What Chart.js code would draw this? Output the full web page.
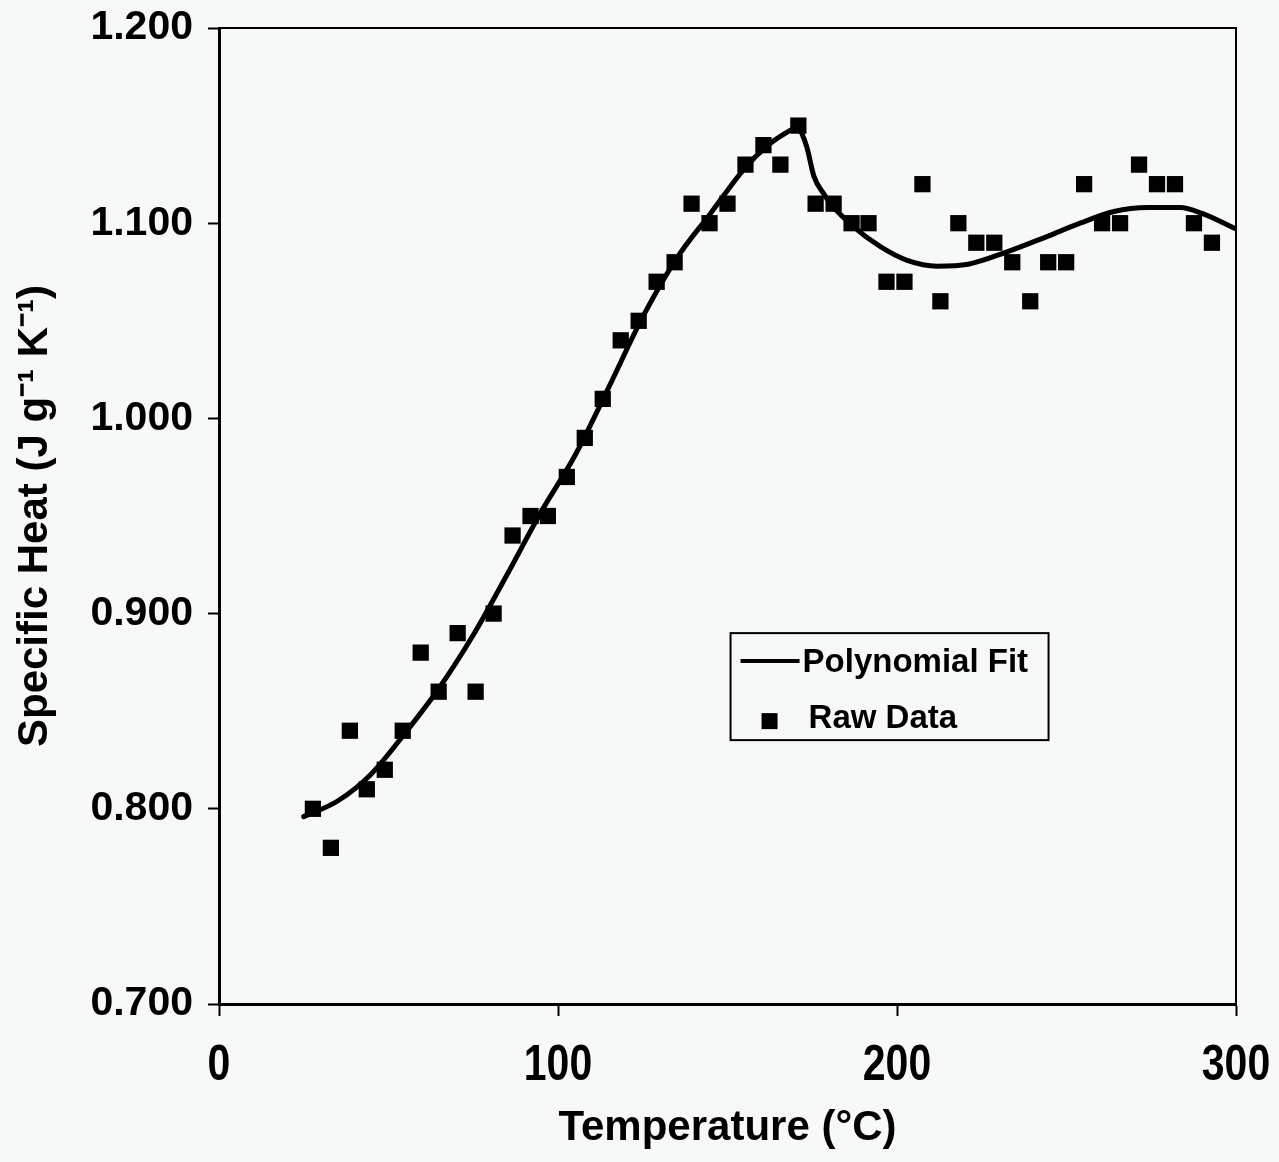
<!DOCTYPE html>
<html><head><meta charset="utf-8">
<script src="https://cdn.jsdelivr.net/npm/chart.js@4/dist/chart.umd.min.js"></script>
<style>html,body{margin:0;padding:0;background:#f7f8f8;}#wrap{width:1279px;height:1162px;}</style>
</head><body><div id="wrap"><canvas id="c" width="1279" height="1162"></canvas></div>
<script>
const rawTemperature = [27.7,33.0,38.6,43.6,48.9,54.2,59.5,64.8,70.4,75.7,81.0,86.6,91.9,97.0,102.6,107.9,113.2,118.5,123.8,129.1,134.4,139.4,144.7,150.0,155.3,160.6,165.6,170.9,176.0,181.3,186.6,191.6,196.9,202.2,207.5,212.8,218.1,223.4,228.7,234.0,239.3,244.6,249.9,255.2,260.5,265.8,271.4,276.7,282.0,287.6,292.9];
const rawSpecificHeat = [0.80,0.78,0.84,0.81,0.82,0.84,0.88,0.86,0.89,0.86,0.90,0.94,0.95,0.95,0.97,0.99,1.01,1.04,1.05,1.07,1.08,1.11,1.10,1.11,1.13,1.14,1.13,1.15,1.11,1.11,1.10,1.10,1.07,1.07,1.12,1.06,1.10,1.09,1.09,1.08,1.06,1.08,1.08,1.12,1.10,1.10,1.13,1.12,1.12,1.10,1.09];
const fitLowTemperature = [25,35,45,55,65,75,85,95,105,115,125,135,145,155,162,167,171];
const fitLowSpecificHeat = [0.796,0.804,0.818,0.839,0.862,0.889,0.920,0.952,0.981,1.016,1.052,1.082,1.105,1.128,1.140,1.146,1.150];
const fitHighTemperature = [171,173.4,175.5,178.4,180.4,187.3,195.1,203,211.8,221,232,244,254,264,274,283.5,290,300];
const fitHighSpecificHeat = [1.150,1.139,1.124,1.115,1.110,1.098,1.088,1.081,1.078,1.079,1.085,1.093,1.100,1.106,1.108,1.108,1.105,1.097];
const xTickValues = [0,100,200,300];
const yTickValues = [0.7,0.8,0.9,1.0,1.1,1.2];
const seriesLabels = ['Polynomial Fit','Raw Data'];
const xTitle = 'Temperature (°C)';
const yTitle = 'Specific Heat (J g⁻¹ K⁻¹)';

const toXY = (xs, ys) => xs.map((x, i) => ({x: x, y: ys[i]}));
const BG = '#f7f8f8';
const SANS = "'Liberation Sans',Arial,sans-serif";

const frameAndLegend = {
  id: 'frameAndLegend',
  afterDraw(chart) {
    const ctx = chart.ctx, ca = chart.chartArea;
    ctx.save();
    ctx.strokeStyle = '#000';
    ctx.lineWidth = 2;
    ctx.beginPath();
    ctx.moveTo(ca.left, ca.top); ctx.lineTo(ca.right, ca.top); ctx.lineTo(ca.right, ca.bottom);
    ctx.stroke();
    // condensed x tick labels placed by the x scale
    const xs = chart.scales.x;
    ctx.fillStyle = '#000';
    ctx.textAlign = 'center';
    ctx.textBaseline = 'middle';
    ctx.font = "bold 50px " + SANS;
    xTickValues.forEach(v => {
      ctx.save();
      ctx.translate(xs.getPixelForValue(v), ca.bottom + 62);
      ctx.scale(0.82, 1);
      ctx.fillText(String(v), 0, 0);
      ctx.restore();
    });
    // legend
    const lx = ca.left + 0.503 * (ca.right - ca.left);
    const ly = ca.top + 0.620 * (ca.bottom - ca.top);
    const lw = 318, lh = 107;
    ctx.fillStyle = BG;
    ctx.fillRect(lx, ly, lw, lh);
    ctx.lineWidth = 2;
    ctx.strokeRect(lx, ly, lw, lh);
    ctx.lineWidth = 4;
    ctx.beginPath();
    ctx.moveTo(lx + 10, ly + 28); ctx.lineTo(lx + 69, ly + 28);
    ctx.stroke();
    ctx.fillStyle = '#000';
    ctx.fillRect(lx + 39 - 8, ly + 88 - 8, 16, 16);
    ctx.font = "bold 33px " + SANS;
    ctx.textBaseline = 'middle';
    ctx.textAlign = 'left';
    ctx.fillText(chart.data.datasets[0].label, lx + 72, ly + 30);
    ctx.fillText(chart.data.datasets[2].label, lx + 78, ly + 86);
    ctx.restore();
  }
};

new Chart(document.getElementById('c'), {
  type: 'scatter',
  data: {
    datasets: [
      {label: seriesLabels[0], data: toXY(fitLowTemperature, fitLowSpecificHeat), showLine: true, pointRadius: 0, borderColor: '#000', borderWidth: 5, cubicInterpolationMode: 'monotone', borderCapStyle: 'round'},
      {label: seriesLabels[0] + ' ', data: toXY(fitHighTemperature, fitHighSpecificHeat), showLine: true, pointRadius: 0, borderColor: '#000', borderWidth: 5, cubicInterpolationMode: 'monotone', borderCapStyle: 'round'},
      {label: seriesLabels[1], data: toXY(rawTemperature, rawSpecificHeat), showLine: false, pointStyle: 'rect', pointRadius: 11.5, pointHoverRadius: 11.5, backgroundColor: '#000', borderColor: '#000', borderWidth: 0}
    ]
  },
  options: {
    responsive: false,
    animation: false,
    events: [],
    layout: {padding: {top: 28, right: 43, left: 0, bottom: 0}},
    plugins: {legend: {display: false}, tooltip: {enabled: false}},
    scales: {
      x: {
        type: 'linear', min: 0, max: 300,
        afterBuildTicks: s => { s.ticks = xTickValues.map(v => ({value: v})); },
        afterFit: s => { s.height = 158; s.paddingLeft = 0; s.paddingRight = 0; },
        grid: {drawOnChartArea: false, drawTicks: true, tickLength: 12, tickColor: '#000', tickWidth: 2},
        border: {display: true, color: '#000', width: 3},
        ticks: {display: false},
        title: {display: true, text: xTitle, color: '#000', font: {family: SANS, size: 42, weight: 'bold'}, padding: {top: 0, bottom: 8}}
      },
      y: {
        type: 'linear', min: 0.7, max: 1.2,
        afterBuildTicks: s => { s.ticks = yTickValues.map(v => ({value: v})); },
        afterFit: s => { s.width = 219; s.paddingTop = 0; s.paddingBottom = 0; },
        grid: {drawOnChartArea: false, drawTicks: true, tickLength: 11, tickColor: '#000', tickWidth: 2},
        border: {display: true, color: '#000', width: 3},
        ticks: {color: '#000', padding: 15, font: {family: SANS, size: 41, weight: 'bold'}, callback: v => Number(v).toFixed(3)},
        title: {display: true, text: yTitle, color: '#000', font: {family: SANS, size: 42, weight: 'bold'}, padding: {top: 10, bottom: 0}}
      }
    }
  },
  plugins: [frameAndLegend]
});
</script></body></html>
